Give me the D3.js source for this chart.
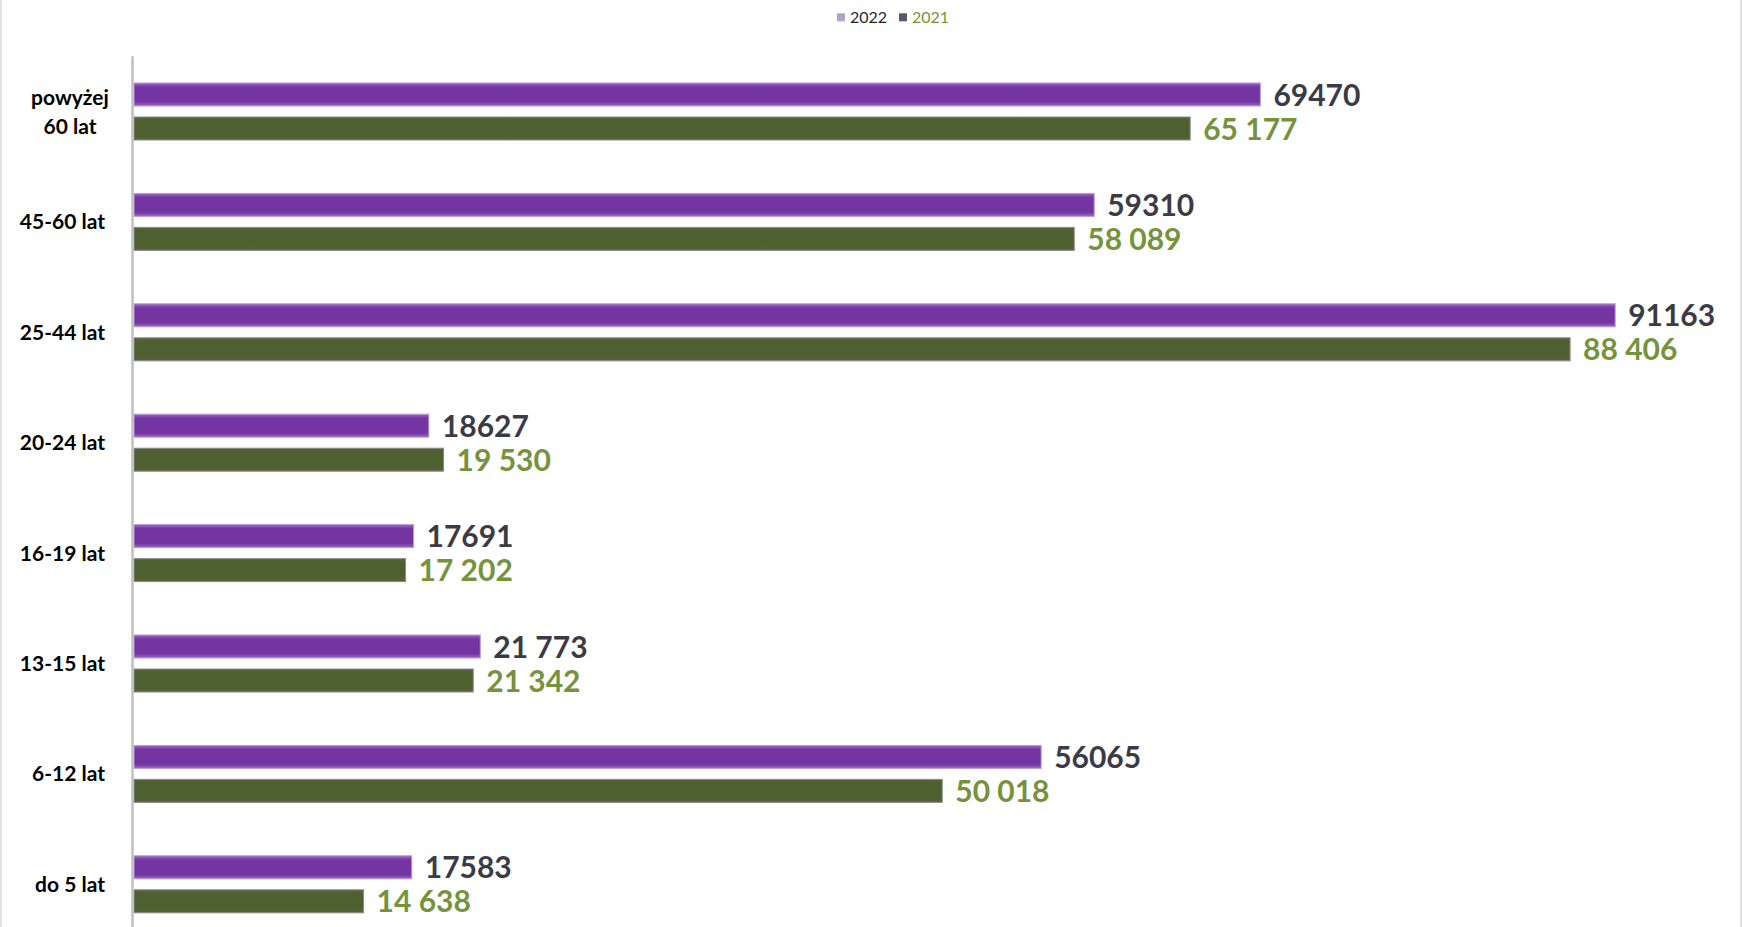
<!DOCTYPE html>
<html>
<head>
<meta charset="utf-8">
<script src="https://cdn.jsdelivr.net/npm/d3@7/dist/d3.min.js"></script>
<style>
  html, body { margin: 0; padding: 0; background: #ffffff; }
  svg { display: block; }
</style>
</head>
<body>
<svg id="chart" width="1742" height="927"></svg>
<script>
const categories = ["powyżej 60 lat", "45-60 lat", "25-44 lat", "20-24 lat", "16-19 lat", "13-15 lat", "6-12 lat", "do 5 lat"];
const seriesNames = ["2022", "2021"];
const values2022 = [69470, 59310, 91163, 18627, 17691, 21773, 56065, 17583];
const values2021 = [65177, 58089, 88406, 19530, 17202, 21342, 50018, 14638];
const labels2022 = ["69470", "59310", "91163", "18627", "17691", "21 773", "56065", "17583"];
const labels2021 = ["65 177", "58 089", "88 406", "19 530", "17 202", "21 342", "50 018", "14 638"];
const xDomain = [600, 100000];

const W = 1742, H = 927;
const svg = d3.select("#chart");

const defs = svg.append("defs");
const gp = defs.append("linearGradient").attr("id", "gPurple").attr("x1", 0).attr("y1", 0).attr("x2", 0).attr("y2", 1);
gp.append("stop").attr("offset", "0%").attr("stop-color", "#9a6cc2");
gp.append("stop").attr("offset", "18%").attr("stop-color", "#7434a2");
gp.append("stop").attr("offset", "82%").attr("stop-color", "#7434a2");
gp.append("stop").attr("offset", "100%").attr("stop-color", "#9a6cc2");
const gg = defs.append("linearGradient").attr("id", "gGreen").attr("x1", 0).attr("y1", 0).attr("x2", 0).attr("y2", 1);
gg.append("stop").attr("offset", "0%").attr("stop-color", "#5a6440");
gg.append("stop").attr("offset", "15%").attr("stop-color", "#4f6030");
gg.append("stop").attr("offset", "85%").attr("stop-color", "#4f6030");
gg.append("stop").attr("offset", "100%").attr("stop-color", "#5a6440");

// frame
svg.append("rect").attr("x", 0).attr("y", 0).attr("width", W).attr("height", H).attr("fill", "#ffffff");
svg.append("line").attr("x1", 1).attr("x2", 1).attr("y1", 0).attr("y2", H).attr("stroke", "#d9d9d9").attr("stroke-width", 1.5);
svg.append("line").attr("x1", W - 1).attr("x2", W - 1).attr("y1", 0).attr("y2", H).attr("stroke", "#d9d9d9").attr("stroke-width", 1.5);

const x = d3.scaleLinear().domain(xDomain).range([134, 1759.7]);
const y = d3.scaleBand().domain(categories).range([56.3, 56.3 + 8 * 110.4]).padding(0);
const ys = d3.scaleBand().domain(seriesNames).range([-28.5, 28.5]).paddingInner(11 / 34).paddingOuter(0);

const fills = { "2022": "url(#gPurple)", "2021": "url(#gGreen)" };
const strokes = { "2022": "#b89ad4", "2021": "#8a8a8a" };
const labelColors = { "2022": "#3b3b45", "2021": "#76923c" };

const rows = categories.map((c, i) => ({
  cat: c,
  series: [
    { name: "2022", value: values2022[i], label: labels2022[i] },
    { name: "2021", value: values2021[i], label: labels2021[i] }
  ]
}));

const g = svg.append("g");
const rowG = g.selectAll("g.row").data(rows).join("g")
  .attr("class", "row")
  .attr("transform", d => `translate(0,${y(d.cat) + y.bandwidth() / 2})`);

rowG.selectAll("rect").data(d => d.series).join("rect")
  .attr("x", x(xDomain[0]))
  .attr("y", d => ys(d.name))
  .attr("width", d => x(d.value) - x(xDomain[0]))
  .attr("height", ys.bandwidth())
  .attr("fill", d => fills[d.name])
  .attr("stroke", d => strokes[d.name])
  .attr("stroke-width", 1);

rowG.selectAll("text.val").data(d => d.series).join("text")
  .attr("class", "val")
  .attr("x", d => x(d.value) + 13)
  .attr("y", d => ys(d.name) + ys.bandwidth() / 2)
  .attr("dy", "0.37em")
  .attr("font-family", "Lato, 'Open Sans', sans-serif")
  .attr("font-weight", 700)
  .attr("font-size", "30px")
  .attr("fill", d => labelColors[d.name])
  .text(d => d.label);

// axis line
svg.append("line")
  .attr("x1", 132.5).attr("x2", 132.5)
  .attr("y1", y.range()[0]).attr("y2", H)
  .attr("stroke", "#bfbfbf").attr("stroke-width", 2.5);

// category labels
categories.forEach(c => {
  const cy = y(c) + y.bandwidth() / 2;
  const t = svg.append("text")
    .attr("font-family", "Lato, 'Open Sans', sans-serif")
    .attr("font-weight", 700)
    .attr("font-size", "21px")
    .attr("fill", "#000000");
  if (c.length > 10) {
    const k = c.indexOf(" ");
    const lines = [c.slice(0, k), c.slice(k + 1)];
    t.attr("text-anchor", "middle");
    lines.forEach((ln, j) => {
      t.append("tspan").attr("x", 70).attr("y", cy - 7 + j * 29).text(ln);
    });
  } else {
    t.attr("text-anchor", "end").attr("x", 105).attr("y", cy).attr("dy", "0.36em").text(c);
  }
});

// legend
const legendColors = { "2022": "#b3a2c7", "2021": "#5f5470" };
const legendTextColors = { "2022": "#1f1f2f", "2021": "#77933c" };
const legendX = { "2022": 837, "2021": 899 };
seriesNames.forEach(s => {
  svg.append("rect").attr("x", legendX[s]).attr("y", 13.3).attr("width", 8).attr("height", 8).attr("fill", legendColors[s]);
  svg.append("text").attr("x", legendX[s] + 13).attr("y", 22.5)
    .attr("font-family", "Lato, 'Open Sans', sans-serif")
    .attr("font-size", "16px")
    .attr("fill", legendTextColors[s])
    .text(s);
});
</script>
</body>
</html>
